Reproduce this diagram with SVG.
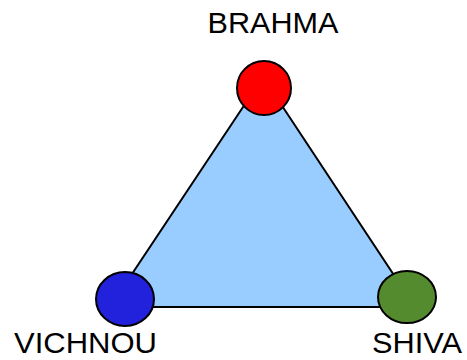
<svg xmlns="http://www.w3.org/2000/svg" width="467" height="360" viewBox="0 0 467 360">
<style>
.lbl{font-family:"Liberation Sans",Arial,sans-serif;font-size:29px;fill:#000}
.nd{stroke:#000;stroke-width:2}
.edge{fill:#99CCFF;stroke:#000;stroke-width:2;stroke-linejoin:miter}
</style>
<rect width="467" height="360" fill="#fff"/>
<g id="connectors">
<polygon class="edge" points="263,77 110,307 415,307"/>
</g>
<g id="brahma">
<ellipse class="nd" cx="264" cy="88" rx="27" ry="27" fill="#FF0000"/>
<text class="lbl" x="273" y="33" text-anchor="middle" textLength="131" lengthAdjust="spacingAndGlyphs">BRAHMA</text>
</g>
<g id="vichnou">
<ellipse class="nd" cx="125" cy="299" rx="29" ry="27" fill="#2222DD"/>
<text class="lbl" x="14" y="353" textLength="143" lengthAdjust="spacingAndGlyphs">VICHNOU</text>
</g>
<g id="shiva">
<ellipse class="nd" cx="407" cy="297" rx="29" ry="26" fill="#558B2F"/>
<text class="lbl" x="372" y="353" textLength="90" lengthAdjust="spacingAndGlyphs">SHIVA</text>
</g>
</svg>
